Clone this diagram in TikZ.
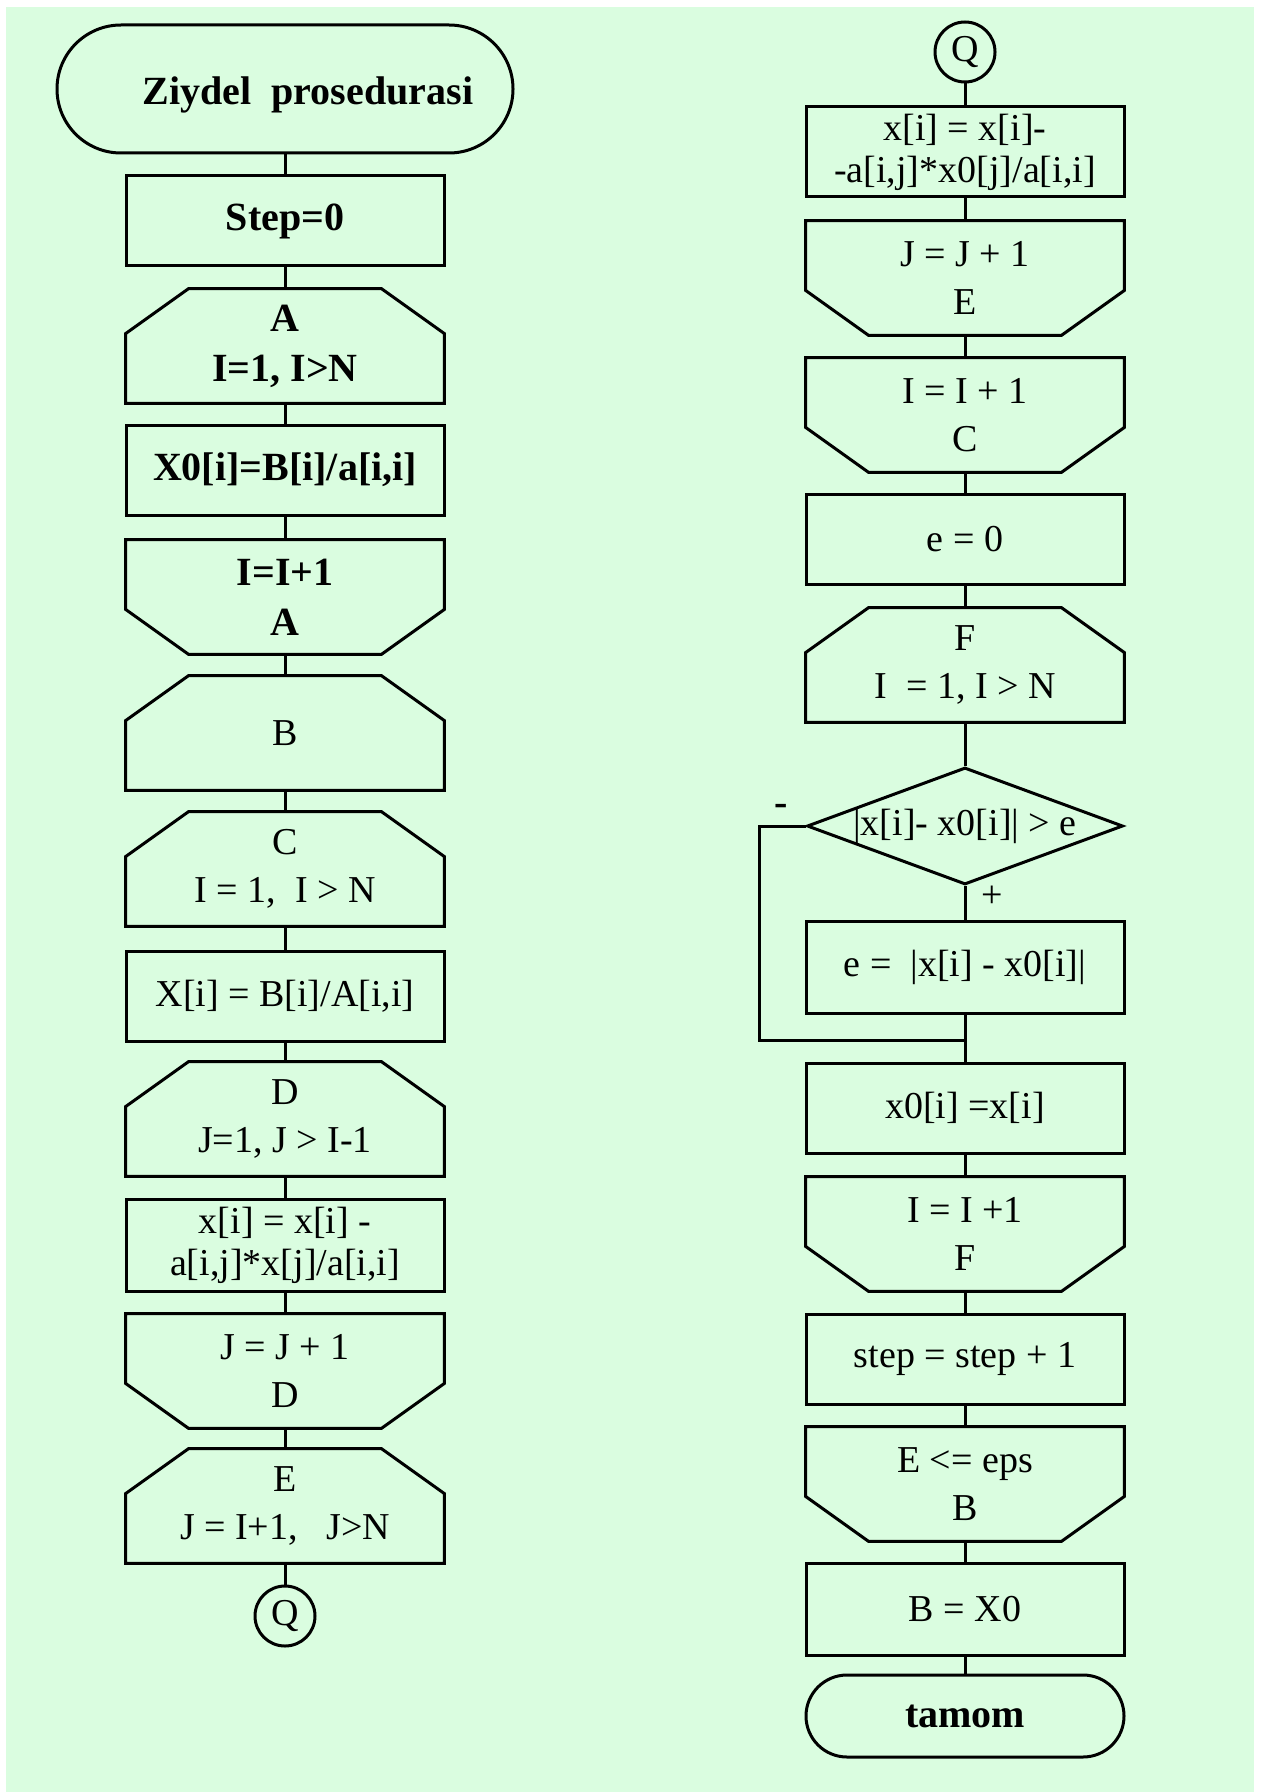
\documentclass[tikz,border=0pt]{standalone}
\usepackage{fontspec}
\setmainfont{Liberation Serif}
\usetikzlibrary{shapes.geometric}
\definecolor{bgmint}{RGB}{218,253,224}
\newcommand{\fs}{\fontsize{19pt}{21pt}\selectfont}
\newcommand{\fsb}{\fontsize{20pt}{22pt}\selectfont\bfseries}
% chamfered outlines of the loop blocks
\newcommand{\loopbeg}[1]{\draw[edge] (#1.south west) -- ([yshift=-22.5pt]#1.north west) -- ([xshift=31.5pt]#1.north west) -- ([xshift=-31.5pt]#1.north east) -- ([yshift=-22.5pt]#1.north east) -- (#1.south east) -- cycle;}
\newcommand{\loopend}[1]{\draw[edge] (#1.north west) -- ([yshift=22.5pt]#1.south west) -- ([xshift=31.5pt]#1.south west) -- ([xshift=-31.5pt]#1.south east) -- ([yshift=22.5pt]#1.south east) -- (#1.north east) -- cycle;}

\begin{document}
\begin{tikzpicture}[x=0.5pt, y=-0.5pt,
	edge/.style={line width=1.5pt},
	every node/.style={font=\fs, align=center, inner sep=0pt},
	blk/.style={draw, line width=1.5pt, minimum width=159pt, minimum height=45pt},
	hexa/.style={minimum width=159pt, minimum height=57pt},
	term/.style={draw, line width=1.5pt, rectangle},
	conn/.style={draw, line width=1.5pt, circle, minimum size=30pt}]
	\useasboundingbox (0,0) rectangle (1261,1792);
	\fill[bgmint] (6,7) rectangle (1254,1792);

	% left column
	\node[term, minimum width=228pt, minimum height=64pt, rounded corners=32pt, font=\fsb] (start) at (285,89) {\raisebox{-3pt}[\height][\depth]{\hspace*{23pt}Ziydel\ \ prosedurasi}};
	\node[blk, font=\fsb] (s0) at (285,221) {Step=0};
	\node[hexa, font=\fsb] (hA) at (285,346) {A\\[3pt]I=1, I>N};
	\node[blk, font=\fsb] (x0a) at (285,470) {X0[i]=B[i]/a[i,i]};
	\node[hexa, font=\fsb] (endA) at (285,597) {I=I+1\\[3pt]A};
	\node[hexa] (hB) at (285,733) {B};
	\node[hexa] (hC) at (285,869) {C\\[3pt]I = 1,\ \ I > N};
	\node[blk] (xb) at (285,996) {X[i] = B[i]/A[i,i]};
	\node[hexa] (hD) at (285,1119) {D\\[3pt]J=1, J > I-1};
	\node[blk, minimum height=46pt] (xx) at (285,1245) {x[i] = x[i] -\\a[i,j]*x[j]/a[i,i]};
	\node[hexa] (endD) at (285,1371) {J = J + 1\\[3pt]D};
	\node[hexa] (hE) at (285,1506) {E\\[3pt]J = I+1,\ \ \ J>N};
	\node[conn] (qL) at (285,1616) {Q};

	% right column
	\node[conn] (qR) at (965,52) {Q};
	\node[blk] (r1) at (965,152) {x[i] = x[i]-\\-a[i,j]*x0[j]/a[i,i]};
	\node[hexa] (endE) at (965,278) {J = J + 1\\[3pt]E};
	\node[hexa] (endC) at (965,415) {I = I + 1\\[3pt]C};
	\node[blk] (e0) at (965,539) {e = 0};
	\node[hexa] (hF) at (965,665) {F\\[3pt]I\ \ = 1, I > N};
	\node[draw, line width=1.5pt, diamond, minimum width=158pt, minimum height=58.5pt] (dia) at (965,826) {\makebox[0pt]{|x[i]- x0[i]| > e}};
	\node[blk, minimum height=46pt] (eabs) at (965,967) {e =\ \ |x[i] - x0[i]|};
	\node[blk] (x0c) at (965,1108) {x0[i] =x[i]};
	\node[hexa] (endF) at (965,1234) {I = I +1\\[3pt]F};
	\node[blk] (stp) at (965,1359) {step = step + 1};
	\node[hexa] (endB) at (965,1484) {E <= eps\\[3pt]B};
	\node[blk, minimum height=46pt] (bx) at (965,1609) {B = X0};
	\node[term, minimum width=159pt, minimum height=41pt, rounded corners=20.5pt, font=\fsb] (stop) at (965,1716) {tamom};

	\node[font=\fsb] (minus) at (781,810) {-};
	\node (plus) at (992,897) {+};

	\loopbeg{hA} \loopend{endA} \loopbeg{hB} \loopbeg{hC} \loopbeg{hD} \loopend{endD} \loopbeg{hE}
	\loopend{endE} \loopend{endC} \loopbeg{hF} \loopend{endF} \loopend{endB}

	\foreach \a/\b in {start/s0, s0/hA, hA/x0a, x0a/endA, endA/hB, hB/hC, hC/xb, xb/hD, hD/xx, xx/endD, endD/hE, hE/qL,
		qR/r1, r1/endE, endE/endC, endC/e0, e0/hF, hF/dia, dia/eabs, eabs/x0c, x0c/endF, endF/stp, stp/endB, endB/bx, bx/stop}
		\draw[edge] (\a.south) -- (\b.north);

	% "-" branch back into the column
	\coordinate (lx) at (759,1040);
	\coordinate (jn) at (965,1040);
	\draw[edge] (dia.west) -| (lx) -- (jn);
\end{tikzpicture}
\end{document}
